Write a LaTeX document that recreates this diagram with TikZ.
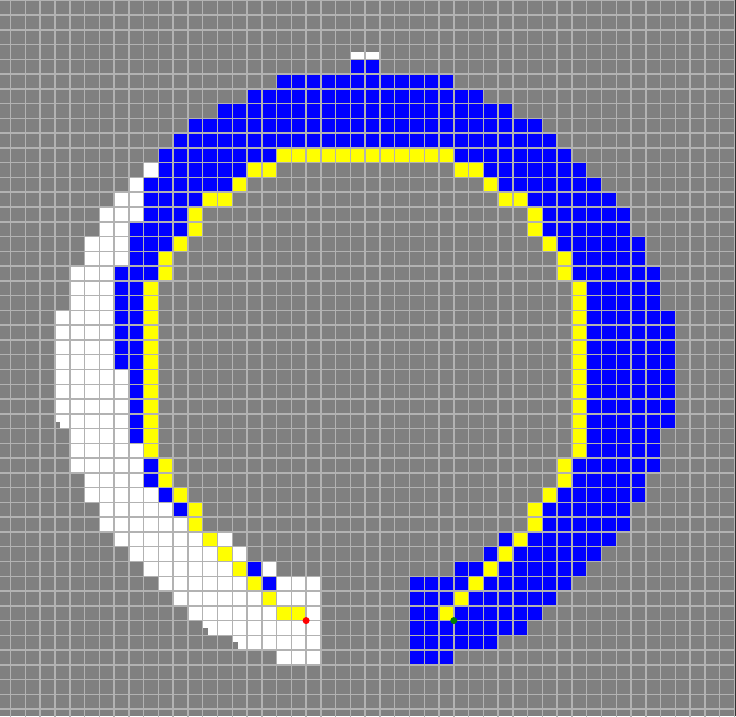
\documentclass[tikz,border=0pt]{standalone}
\definecolor{bgGray}{RGB}{128,128,128}
\definecolor{lineGray}{RGB}{178,178,178}
\definecolor{cBlue}{RGB}{0,0,255}
\definecolor{cYellow}{RGB}{255,255,0}
\definecolor{cGreen}{RGB}{0,128,0}
\definecolor{cRed}{RGB}{255,0,0}
\tikzset{
  gridline/.style={draw=lineGray, line width=1.5pt},
  bluecell/.style={fill=cBlue},
  yellowcell/.style={fill=cYellow},
  whitecell/.style={fill=white},
  notch/.style={fill=bgGray},
  marker/.style={circle, inner sep=0pt, minimum size=7pt},
}
\newcommand{\cellruns}[2]{\foreach \r/\a/\b in {#2} {\fill[#1] (\a,\r) rectangle (\b+1,\r+1);}}
\begin{document}
\begin{tikzpicture}[x=14.77pt, y=-14.77pt]
\useasboundingbox (0pt,0pt) rectangle (736pt,-716pt);
\clip (0pt,0pt) rectangle (736pt,-716pt);
\fill[bgGray] (0pt,0pt) rectangle (736pt,-716pt);
\begin{scope}[shift={(-4.07pt,-0.23pt)}]
  % blue cells
  \cellruns{bluecell}{4/24/25, 5/19/30, 6/17/32, 7/15/34, 8/13/36, 9/12/37,
    10/11/18, 10/31/38, 11/11/16, 11/33/39, 12/10/15, 12/34/40,
    13/10/13, 13/36/41, 14/10/12, 14/37/42, 15/9/12, 15/37/42,
    16/9/11, 16/38/43, 17/9/10, 17/39/43, 18/8/10, 18/39/44,
    19/8/9, 19/40/44, 20/8/9, 20/40/44, 21/8/9, 21/40/45, 22/8/9, 22/40/45,
    23/8/9, 23/40/45, 24/8/9, 24/40/45, 25/9/9, 25/40/45, 26/9/9, 26/40/45,
    27/9/9, 27/40/45, 28/9/9, 28/40/45, 29/9/9, 29/40/44, 30/40/44,
    31/10/10, 31/39/44, 32/10/10, 32/39/43, 33/11/11, 33/38/43,
    34/12/12, 34/37/42, 35/37/42, 36/34/34, 36/36/41, 37/33/33, 37/35/40,
    38/17/17, 38/31/32, 38/34/39, 39/18/18, 39/28/31, 39/33/38,
    40/28/30, 40/32/37, 41/28/29, 41/31/36, 42/28/35, 43/28/33, 44/28/30}
  % yellow cells
  \cellruns{yellowcell}{10/19/30, 11/17/18, 11/31/32, 12/16/16, 12/33/33,
    13/14/15, 13/34/35, 14/13/13, 14/36/36, 15/13/13, 15/36/36,
    16/12/12, 16/37/37, 17/11/11, 17/38/38, 18/11/11, 18/38/38,
    31/11/11, 31/38/38, 32/11/11, 32/38/38, 33/12/12, 33/37/37,
    34/13/13, 34/36/36, 35/13/13, 35/36/36, 36/14/14, 36/35/35,
    37/15/15, 37/34/34, 38/16/16, 38/33/33, 39/17/17, 39/32/32,
    40/18/18, 40/31/31, 41/19/20, 41/30/30}
  \fill[yellowcell] (10,19) rectangle (11,31);
  \fill[yellowcell] (39,19) rectangle (40,31);
  % white cells
  \cellruns{whitecell}{11/10/10, 12/9/9, 13/8/9, 14/7/9, 15/7/8, 16/6/8, 17/6/8,
    18/5/7, 19/5/7, 20/5/7, 21/4/7, 22/4/7, 23/4/7, 24/4/7,
    25/4/8, 26/4/8, 27/4/8, 28/4/8, 29/5/8, 30/5/9, 31/5/9, 32/6/9,
    33/6/10, 34/7/11, 35/7/12, 36/8/13, 36/15/15, 37/9/14, 37/16/16,
    38/10/15, 38/18/18, 39/11/16, 39/19/21, 40/12/17, 40/19/21,
    41/13/18, 41/21/21, 42/14/21, 43/16/21, 44/19/21}
  \fill[whitecell] (24,3.5) rectangle (26,4);
  % small notches
  \fill[notch] (4,28.54) rectangle (4.34,29);
  \fill[notch] (14,42.52) rectangle (14.38,43);
  \fill[notch] (16,43.47) rectangle (16.41,44);
  % grid
  \foreach \k in {0,...,50} {\draw[gridline] (\k,-1) -- (\k,50);}
  \foreach \k in {0,...,49} {\draw[gridline] (-1,\k) -- (51,\k);}
  % markers
  \node[marker, fill=cRed] (start) at (21,42) {};
  \node[marker, fill=cGreen] (goal) at (31,42) {};
\end{scope}
\fill[black!80] (735pt,0pt) rectangle (736pt,-716pt);
\end{tikzpicture}
\end{document}
